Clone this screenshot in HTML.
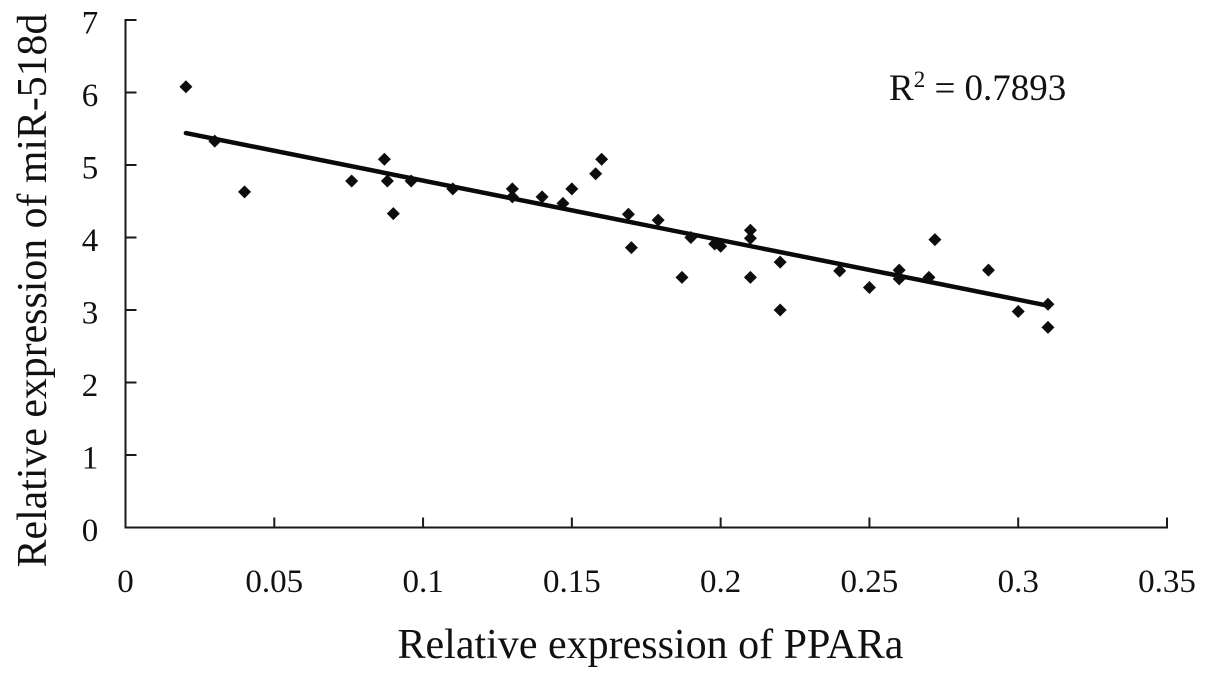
<!DOCTYPE html>
<html lang="en">
<head>
<meta charset="utf-8">
<title>PPARa vs miR-518d</title>
<style>
html,body{margin:0;padding:0;background:#fff;width:1205px;height:674px;overflow:hidden}
svg{display:block}
text{font-family:"Liberation Serif","Times New Roman",serif;fill:#111}
</style>
</head>
<body>
<svg id="chart" width="1205" height="674" viewBox="0 0 1205 674" xmlns="http://www.w3.org/2000/svg"></svg>
<script>
const xTicks = [0, 0.05, 0.1, 0.15, 0.2, 0.25, 0.3, 0.35];
const yTicks = [0, 1, 2, 3, 4, 5, 6, 7];
const ppara = [0.0203,0.03,0.04,0.076,0.087,0.088,0.09,0.096,0.11,0.13,0.13,0.14,0.147,0.15,0.158,0.16,0.169,0.17,0.179,0.19,0.187,0.198,0.2,0.21,0.21,0.21,0.22,0.22,0.24,0.25,0.26,0.26,0.27,0.272,0.29,0.3,0.31,0.31];
const mir518d = [6.08,5.33,4.63,4.78,5.08,4.78,4.33,4.78,4.67,4.67,4.56,4.56,4.47,4.67,4.88,5.08,4.32,3.86,4.24,4.0,3.45,3.91,3.88,4.1,3.99,3.45,3.66,3.0,3.54,3.31,3.55,3.43,3.45,3.97,3.55,2.98,3.08,2.76];
const trendX = [0.0203, 0.31];
const trendY = [5.44, 3.06];
const xTitle = "Relative expression of PPARa";
const yTitle = "Relative expression of miR-518d";

const NS = "http://www.w3.org/2000/svg";
const svg = document.getElementById("chart");
const X0 = 125.5, X1 = 1167, Y0 = 527.5, Y1 = 20;
const xMax = xTicks[xTicks.length - 1], yMax = yTicks[yTicks.length - 1];
function sx(v){ return X0 + (v / xMax) * (X1 - X0); }
function sy(v){ return Y0 - (v / yMax) * (Y0 - Y1); }
function mk(tag, attrs){
  const el = document.createElementNS(NS, tag);
  for (const k in attrs) el.setAttribute(k, attrs[k]);
  svg.appendChild(el);
  return el;
}
const axisStyle = {stroke:"#1a1a1a","stroke-width":2,fill:"none"};

const yAxis = mk("line", Object.assign({x1:X0,y1:Y1-1,x2:X0,y2:Y0+1}, axisStyle));


const xAxis = mk("line", Object.assign({x1:X0-1,y1:Y0,x2:X1+1,y2:Y0}, axisStyle));



xTicks.forEach(function(t){
  if (t !== 0) {
    const tick = mk("line", Object.assign({x1:sx(t),y1:Y0,x2:sx(t),y2:Y0-10}, axisStyle));
    
    
  }
  const lab = mk("text", {x:sx(t),y:592,"text-anchor":"middle","font-size":33});
  lab.textContent = String(t);
  
  
});
yTicks.forEach(function(t){
  if (t !== 0) {
    const tick = mk("line", Object.assign({x1:X0,y1:sy(t),x2:X0+11,y2:sy(t)}, axisStyle));
    
    
  }
  const lab = mk("text", {x:90,y:sy(t)+13.5,"text-anchor":"middle","font-size":33});
  lab.textContent = String(t);
  
  
});

const trend = mk("line", {x1:sx(trendX[0]),y1:sy(trendY[0]),x2:sx(trendX[1]),y2:sy(trendY[1]),stroke:"#0a0a0a","stroke-width":4.5,"stroke-linecap":"round"});



ppara.forEach(function(v, i){
  const cx = sx(v), cy = sy(mir518d[i]), r = 6.5;
  const pt = mk("polygon", {points:[cx,cy-r,cx+r,cy,cx,cy+r,cx-r,cy].join(" "),fill:"#0d0d0d"});
  
  
});

const xt = mk("text", {x:650.5,y:658,"text-anchor":"middle","font-size":42});
xt.textContent = xTitle;



const yt = mk("text", {x:0,y:0,"text-anchor":"middle","font-size":41.8,transform:"translate(46,290.5) rotate(-90)"});
yt.textContent = yTitle;



const r2 = mk("text", {x:889,y:100,"font-size":37});


const r2a = document.createElementNS(NS, "tspan");
r2a.textContent = "R";
r2.appendChild(r2a);
const r2b = document.createElementNS(NS, "tspan");
r2b.setAttribute("font-size", "23");
r2b.setAttribute("dy", "-13");
r2b.textContent = "2";
r2.appendChild(r2b);
const r2c = document.createElementNS(NS, "tspan");
r2c.setAttribute("dy", "13");
r2c.textContent = " = 0.7893";
r2.appendChild(r2c);
</script>
</body>
</html>
